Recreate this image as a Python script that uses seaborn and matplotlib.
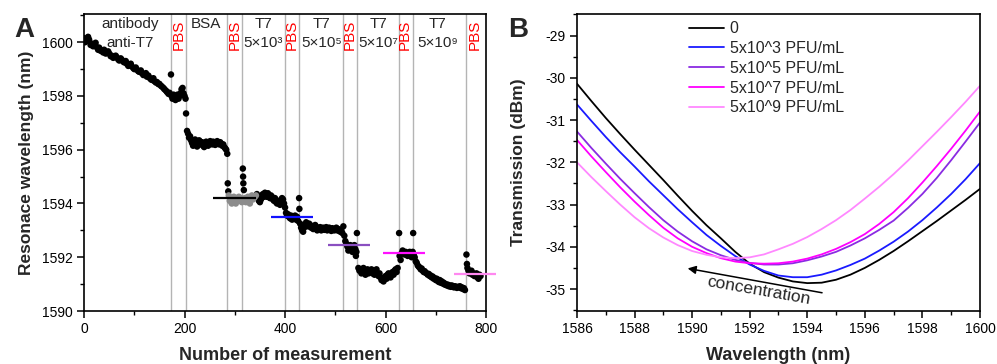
import matplotlib
matplotlib.use("Agg")
import numpy as np
import pandas as pd
import seaborn as sns
import matplotlib.pyplot as plt
from matplotlib.transforms import blended_transform_factory
from matplotlib.ticker import MultipleLocator

# ---------------- Panel A data (measurement index, resonance wavelength nm) -------------
m_antibody = [0, 2, 5, 8, 10, 13, 15, 18, 20, 23, 25, 28, 30, 33, 35, 38, 40, 43, 45, 48, 50, 53, 55, 58,
              60, 63, 65, 68, 70, 73, 75, 78, 80, 83, 85, 88, 90, 93, 95, 98, 100, 103, 105, 108, 110,
              113, 115, 118, 120, 123, 125, 128, 130, 133, 135, 138, 140, 143, 145, 148, 150, 153, 155,
              158, 160, 163, 165, 168, 170]
wl_antibody = [1600.15, 1600.0, 1600.05, 1600.2, 1600.1, 1599.9, 1599.95, 1599.85, 1599.92, 1599.98,
               1599.82, 1599.72, 1599.8, 1599.68, 1599.7, 1599.62, 1599.72, 1599.58, 1599.6, 1599.66,
               1599.58, 1599.48, 1599.5, 1599.42, 1599.45, 1599.5, 1599.44, 1599.36, 1599.32, 1599.4,
               1599.35, 1599.28, 1599.25, 1599.3, 1599.2, 1599.12, 1599.15, 1599.2, 1599.1, 1599.04,
               1599.0, 1599.06, 1598.98, 1598.92, 1598.9, 1598.95, 1598.85, 1598.78, 1598.8, 1598.85,
               1598.72, 1598.76, 1598.68, 1598.62, 1598.6, 1598.66, 1598.55, 1598.5, 1598.52, 1598.44,
               1598.45, 1598.38, 1598.35, 1598.3, 1598.25, 1598.2, 1598.15, 1598.08, 1598.12]

m_pbs1 = [173, 174, 176, 178, 180, 182, 184, 186, 188, 190, 192, 194, 196, 198, 200, 202, 203, 205]
wl_pbs1 = [1598.8, 1598.0, 1597.9, 1598.05, 1597.95, 1597.85, 1598.0, 1598.05, 1597.9, 1598.0, 1598.1,
           1598.25, 1598.3, 1598.1, 1598.0, 1597.9, 1597.35, 1596.7]

m_bsa = [207, 209, 211, 213, 215, 217, 219, 221, 223, 225, 227, 229, 231, 233, 235, 237, 239, 241, 243,
         245, 247, 249, 251, 253, 255, 257, 259, 261, 263, 265, 267, 269, 271, 273, 275, 277, 279, 281,
         283, 285]
wl_bsa = [1596.6, 1596.45, 1596.5, 1596.35, 1596.25, 1596.15, 1596.3, 1596.38, 1596.2, 1596.12, 1596.25,
          1596.35, 1596.3, 1596.2, 1596.28, 1596.15, 1596.1, 1596.2, 1596.3, 1596.22, 1596.15, 1596.28,
          1596.32, 1596.25, 1596.2, 1596.3, 1596.25, 1596.18, 1596.28, 1596.32, 1596.25, 1596.2, 1596.28,
          1596.22, 1596.15, 1596.2, 1596.1, 1596.05, 1596.0, 1595.85]

m_pbs2 = [286, 287, 288, 290, 292, 294, 296, 298, 300, 302, 304, 306, 308, 310, 312, 314, 316, 316.5,
          317, 318]
wl_pbs2 = [1594.75, 1594.45, 1594.3, 1594.1, 1594.2, 1594.0, 1594.15, 1594.25, 1594.1, 1594.0, 1594.2,
           1594.15, 1594.25, 1594.1, 1594.2, 1594.05, 1595.3, 1595.0, 1594.75, 1594.5]

m_t7_3 = [318, 320, 322, 324, 326, 328, 330, 332, 334, 336, 338, 340, 342, 344, 346, 348, 350, 352, 354,
          356, 358, 360, 362, 364, 366, 368, 370, 372, 374, 376, 378, 380, 382, 384, 386, 388, 390, 392,
          394, 396, 398, 400]
wl_t7_3 = [1594.15, 1594.2, 1594.05, 1594.1, 1594.25, 1594.15, 1594.0, 1594.2, 1594.3, 1594.15, 1594.2,
           1594.25, 1594.3, 1594.35, 1594.2, 1594.1, 1594.05, 1594.15, 1594.3, 1594.35, 1594.25, 1594.4,
           1594.35, 1594.25, 1594.38, 1594.3, 1594.2, 1594.3, 1594.25, 1594.15, 1594.1, 1594.2, 1594.05,
           1594.0, 1594.1, 1594.05, 1593.95, 1594.1, 1594.2, 1594.15, 1594.0, 1593.85]

m_pbs3 = [402, 404, 406, 408, 410, 412, 414, 416, 418, 420, 422, 424, 426, 428, 428.5]
wl_pbs3 = [1593.65, 1593.55, 1593.6, 1593.5, 1593.45, 1593.55, 1593.4, 1593.5, 1593.45, 1593.55, 1593.4,
           1593.5, 1593.35, 1594.2, 1593.8]

m_t7_5 = [430, 432, 434, 436, 438, 440, 442, 444, 446, 448, 450, 452, 454, 456, 458, 460, 462, 464, 466,
          468, 470, 472, 474, 476, 478, 480, 482, 484, 486, 488, 490, 492, 494, 496, 498, 500, 502, 504,
          506, 508, 510, 512, 514, 516]
wl_t7_5 = [1593.25, 1593.1, 1593.0, 1592.95, 1593.1, 1593.2, 1593.3, 1593.25, 1593.15, 1593.25, 1593.2,
           1593.1, 1593.15, 1593.05, 1593.1, 1593.2, 1593.05, 1593.0, 1593.1, 1593.05, 1593.12, 1593.0,
           1593.08, 1593.1, 1593.02, 1593.08, 1593.12, 1593.0, 1593.05, 1593.1, 1593.05, 1592.98, 1593.08,
           1593.05, 1593.0, 1593.05, 1593.1, 1593.0, 1593.05, 1592.98, 1592.95, 1593.0, 1592.9, 1593.15]

m_pbs4 = [518, 520, 522, 524, 526, 528, 530, 532, 534, 536, 538, 540, 541, 542, 543]
wl_pbs4 = [1592.8, 1592.6, 1592.5, 1592.4, 1592.25, 1592.35, 1592.45, 1592.3, 1592.2, 1592.35, 1592.45,
           1592.3, 1592.05, 1592.2, 1592.9]

m_t7_7 = [546, 548, 550, 552, 554, 556, 558, 560, 562, 564, 566, 568, 570, 572, 574, 576, 578, 580, 582,
          584, 586, 588, 590, 592, 594, 596, 598, 600, 602, 604, 606, 608, 610, 612, 614, 616, 618, 620,
          622, 624]
wl_t7_7 = [1591.6, 1591.5, 1591.55, 1591.4, 1591.5, 1591.6, 1591.45, 1591.35, 1591.5, 1591.55, 1591.4,
           1591.5, 1591.45, 1591.55, 1591.4, 1591.5, 1591.35, 1591.45, 1591.55, 1591.4, 1591.3, 1591.4,
           1591.25, 1591.15, 1591.2, 1591.1, 1591.25, 1591.3, 1591.2, 1591.35, 1591.4, 1591.3, 1591.25,
           1591.4, 1591.45, 1591.35, 1591.5, 1591.55, 1591.45, 1591.6]

m_pbs5 = [627, 628, 630, 632, 634, 636, 638, 640, 642, 644, 646, 648, 650, 652, 654, 655]
wl_pbs5 = [1592.9, 1592.05, 1591.9, 1592.15, 1592.25, 1592.2, 1592.1, 1592.2, 1592.15, 1592.05, 1592.1,
           1592.2, 1592.05, 1592.0, 1592.2, 1592.9]

m_t7_9 = [656, 658, 660, 662, 664, 666, 668, 670, 672, 674, 676, 678, 680, 682, 684, 686, 688, 690, 692,
          694, 696, 698, 700, 702, 704, 706, 708, 710, 712, 714, 716, 718, 720, 722, 724, 726, 728, 730,
          732, 734, 736, 738, 740, 742, 744, 746, 748, 750, 752, 754, 756, 758]
wl_t7_9 = [1592.1, 1592.0, 1591.85, 1591.8, 1591.7, 1591.65, 1591.62, 1591.55, 1591.58, 1591.5, 1591.45,
           1591.48, 1591.42, 1591.4, 1591.35, 1591.38, 1591.3, 1591.32, 1591.25, 1591.28, 1591.2, 1591.22,
           1591.15, 1591.2, 1591.12, 1591.08, 1591.15, 1591.05, 1591.1, 1591.02, 1591.05, 1590.98, 1591.0,
           1590.95, 1590.98, 1590.92, 1590.95, 1590.9, 1590.95, 1590.92, 1590.88, 1590.92, 1590.9, 1590.86,
           1590.9, 1590.88, 1590.92, 1590.85, 1590.88, 1590.82, 1590.85, 1590.78]

m_pbs6 = [761, 762, 763, 765, 767, 769, 771, 773, 775, 777, 779, 781, 783, 785, 787, 789]
wl_pbs6 = [1592.1, 1591.75, 1591.6, 1591.5, 1591.4, 1591.45, 1591.5, 1591.35, 1591.4, 1591.3, 1591.35,
           1591.4, 1591.25, 1591.2, 1591.35, 1591.3]

# stage boundaries (vertical lines) and stage labels
stage_bounds = [173, 202, 285, 315, 400, 428, 516, 544, 626, 654, 760]
stage_label_x = [92, 243, 357, 473, 585, 704]
stage_label_top = ["antibody", "BSA", "T7", "T7", "T7", "T7"]
stage_label_bottom = ["anti-T7", "", "5×10³", "5×10⁵", "5×10⁷", "5×10⁹"]
pbs_x = [188, 300, 414, 529, 639, 778]

# mean level lines
mean_start = [257, 373, 486, 594, 737]
mean_end = [343, 456, 570, 679, 820]
mean_level = [1594.2, 1593.48, 1592.47, 1592.17, 1591.37]
mean_colors = ["#000000", "#1010ff", "#8a4fc0", "#ff10ff", "#ff88f0"]

# ---------------- Panel B data (transmission spectra) ----------------
wavelength = [1586, 1586.5, 1587, 1587.5, 1588, 1588.5, 1589, 1589.5, 1590, 1590.5, 1591, 1591.5, 1592,
              1592.5, 1593, 1593.5, 1594, 1594.5, 1595, 1595.5, 1596, 1596.5, 1597, 1597.5, 1598, 1598.5,
              1599, 1599.5, 1600]
t_0 = [-30.14, -30.55, -30.95, -31.33, -31.7, -32.06, -32.42, -32.79, -33.15, -33.49, -33.8, -34.12,
       -34.4, -34.6, -34.73, -34.82, -34.86, -34.85, -34.78, -34.66, -34.5, -34.31, -34.1, -33.87, -33.63,
       -33.39, -33.14, -32.89, -32.63]
t_5e3 = [-30.63, -31.02, -31.4, -31.76, -32.1, -32.45, -32.78, -33.11, -33.42, -33.72, -33.98, -34.22,
         -34.42, -34.57, -34.68, -34.72, -34.72, -34.66, -34.56, -34.43, -34.28, -34.09, -33.88, -33.64,
         -33.37, -33.07, -32.75, -32.4, -32.02]
t_5e5 = [-31.27, -31.66, -32.03, -32.39, -32.73, -33.06, -33.37, -33.64, -33.87, -34.06, -34.2, -34.31,
         -34.38, -34.42, -34.42, -34.39, -34.32, -34.23, -34.12, -33.97, -33.8, -33.6, -33.38, -33.08,
         -32.75, -32.37, -31.95, -31.51, -31.06]
t_5e7 = [-31.47, -31.86, -32.23, -32.59, -32.93, -33.25, -33.55, -33.8, -34.0, -34.15, -34.27, -34.35,
         -34.39, -34.4, -34.39, -34.35, -34.28, -34.18, -34.05, -33.89, -33.7, -33.46, -33.18, -32.85,
         -32.48, -32.09, -31.68, -31.25, -30.80]
t_5e9 = [-32.0, -32.35, -32.68, -33.0, -33.3, -33.56, -33.78, -33.96, -34.1, -34.19, -34.25, -34.27,
         -34.25, -34.18, -34.06, -33.93, -33.77, -33.58, -33.37, -33.13, -32.86, -32.58, -32.28, -31.96,
         -31.62, -31.28, -30.93, -30.57, -30.19]
series_labels = ["0", "5x10^3 PFU/mL", "5x10^5 PFU/mL", "5x10^7 PFU/mL", "5x10^9 PFU/mL"]
series_colors = ["#000000", "#1a1aff", "#8a2be2", "#ff00ff", "#ff88ff"]

# ---------------- figure ----------------
sns.set_theme(style="ticks")
plt.rcParams["font.family"] = ["Liberation Sans", "DejaVu Sans"]
plt.rcParams["axes.unicode_minus"] = False
plt.rcParams["axes.linewidth"] = 1.2
plt.rcParams["xtick.major.width"] = 1.1
plt.rcParams["ytick.major.width"] = 1.1
plt.rcParams["xtick.minor.width"] = 1.0
plt.rcParams["ytick.minor.width"] = 1.0
plt.rcParams["xtick.color"] = "black"
plt.rcParams["ytick.color"] = "black"
plt.rcParams["axes.edgecolor"] = "black"

fig = plt.figure(figsize=(9.97, 3.64), dpi=100)
axA = fig.add_axes([0.0843, 0.1456, 0.4032, 0.8159])
axB = fig.add_axes([0.5787, 0.1456, 0.4042, 0.8159])

# ---- Panel A ----
segments_m = [m_antibody, m_pbs1, m_bsa, m_pbs2, m_t7_3, m_pbs3, m_t7_5, m_pbs4, m_t7_7, m_pbs5, m_t7_9, m_pbs6]
segments_wl = [wl_antibody, wl_pbs1, wl_bsa, wl_pbs2, wl_t7_3, wl_pbs3, wl_t7_5, wl_pbs4, wl_t7_7, wl_pbs5,
               wl_t7_9, wl_pbs6]
dfA = pd.DataFrame({"m": sum(segments_m, []), "wl": sum(segments_wl, [])})
dfA["grey"] = (dfA["m"] >= 288) & (dfA["m"] <= 343) & (dfA["wl"] < 1594.45)

for b in stage_bounds:
    axA.axvline(b, color="#b4b4b4", lw=1.0, zorder=1)

sns.scatterplot(data=dfA[~dfA["grey"]], x="m", y="wl", ax=axA, color="black", s=22,
                edgecolor="none", zorder=3, legend=False)
sns.scatterplot(data=dfA[dfA["grey"]], x="m", y="wl", ax=axA, color="#8c8c8c", s=22,
                edgecolor="none", zorder=3, legend=False)
for xs, xe, lv, c in zip(mean_start, mean_end, mean_level, mean_colors):
    axA.hlines(lv, xs, xe, color=c, lw=1.6, zorder=4, clip_on=False)

axA.set_xlim(0, 800)
axA.set_ylim(1590, 1601.05)
axA.xaxis.set_major_locator(MultipleLocator(200))
axA.xaxis.set_minor_locator(MultipleLocator(100))
axA.yaxis.set_major_locator(MultipleLocator(2))
axA.yaxis.set_minor_locator(MultipleLocator(1))
axA.tick_params(which="major", direction="out", length=5, labelsize=10, pad=3)
axA.tick_params(which="minor", direction="out", length=3)
axA.set_xlabel("Number of measurement", fontsize=13, fontweight="bold", labelpad=8)
axA.set_ylabel("Resonace wavelength (nm)", fontsize=12.5, fontweight="bold", labelpad=6)

trA = blended_transform_factory(axA.transData, axA.transAxes)
for x, t1, t2 in zip(stage_label_x, stage_label_top, stage_label_bottom):
    axA.text(x, 0.966, t1, transform=trA, ha="center", va="center", fontsize=11)
    if t2:
        axA.text(x, 0.902, t2, transform=trA, ha="center", va="center", fontsize=11)
for x in pbs_x:
    axA.text(x, 0.93, "PBS", transform=trA, ha="center", va="center", fontsize=11,
             color="red", rotation=90)

# ---- Panel B ----
dfB = pd.DataFrame({
    "wavelength": wavelength * 5,
    "T": t_0 + t_5e3 + t_5e5 + t_5e7 + t_5e9,
    "series": sum([[lab] * len(wavelength) for lab in series_labels], []),
})
sns.lineplot(data=dfB, x="wavelength", y="T", hue="series", hue_order=series_labels,
             palette=series_colors, ax=axB, lw=1.3)
axB.set_xlim(1586, 1600)
axB.set_ylim(-35.52, -28.49)
axB.xaxis.set_major_locator(MultipleLocator(2))
axB.xaxis.set_minor_locator(MultipleLocator(1))
axB.yaxis.set_major_locator(MultipleLocator(1))
axB.yaxis.set_minor_locator(MultipleLocator(0.5))
axB.tick_params(which="major", direction="out", length=5, labelsize=10, pad=3)
axB.tick_params(which="minor", direction="out", length=3)
axB.set_xlabel("Wavelength (nm)", fontsize=13, fontweight="bold", labelpad=8)
axB.set_ylabel("Transmission (dBm)", fontsize=12.5, fontweight="bold", labelpad=14)
leg = axB.legend(loc="upper left", bbox_to_anchor=(0.26, 1.0), frameon=False, fontsize=11.5,
                 handlelength=2.2, handletextpad=0.35, labelspacing=0.3, borderaxespad=0.05)

axB.annotate("", xy=(1589.75, -34.50), xytext=(1594.61, -35.10),
             arrowprops=dict(arrowstyle="-|>", color="black", lw=1.1, mutation_scale=12))
axB.text(1592.3, -35.04, "concentration", fontsize=12.5, rotation=-10, ha="center", va="center")

fig.text(0.024, 0.918, "A", fontsize=20, fontweight="bold", ha="center", va="center")
fig.text(0.5196, 0.918, "B", fontsize=20, fontweight="bold", ha="center", va="center")

fig.savefig("out.png", dpi=100)
